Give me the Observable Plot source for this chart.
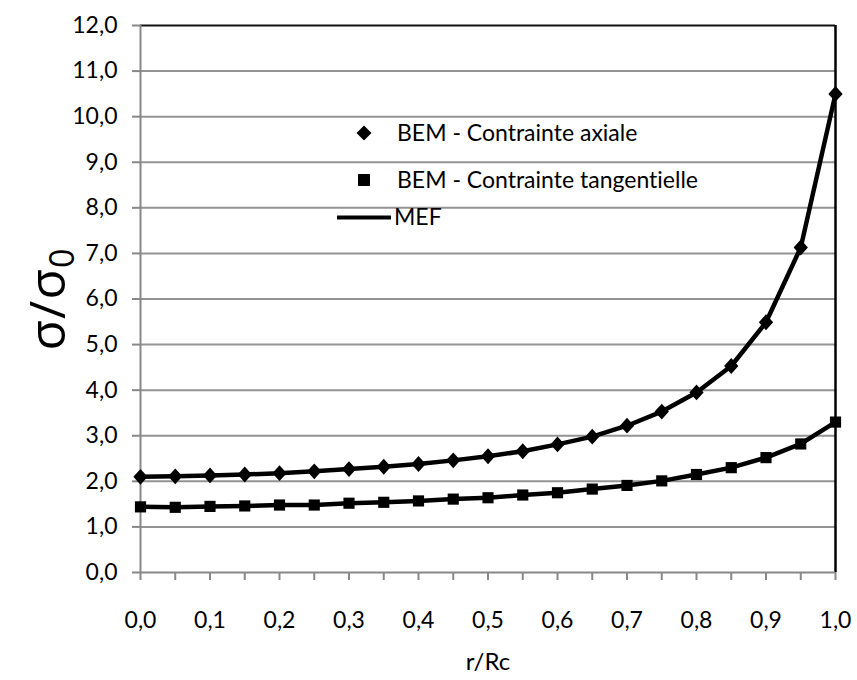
<!DOCTYPE html>
<html><head><meta charset="utf-8">
<script src="https://cdn.jsdelivr.net/npm/d3@7"></script>
<script src="https://cdn.jsdelivr.net/npm/@observablehq/plot@0.6"></script>
<style>
body{margin:0;background:#fff;}
#wrap{position:relative;width:857px;height:680px;font-family:Lato,"Open Sans",sans-serif;font-variant-ligatures:none;}
#wrap svg text{font-variant-ligatures:none;}
.lg{position:absolute;white-space:nowrap;transform:translateY(-50%);line-height:1;font-size:23px;color:#000;font-variant-ligatures:none;}
.sym{position:absolute;transform:translate(-50%,-50%);line-height:0;}
</style>
</head><body>
<div id="wrap"></div>
<script>
const rRatio = [0,0.05,0.1,0.15,0.2,0.25,0.3,0.35,0.4,0.45,0.5,0.55,0.6,0.65,0.7,0.75,0.8,0.85,0.9,0.95,1.0];
const axial = [2.10,2.11,2.13,2.15,2.18,2.22,2.27,2.32,2.38,2.46,2.55,2.66,2.81,2.98,3.22,3.53,3.95,4.53,5.49,7.13,10.50];
const tangential = [1.44,1.43,1.45,1.46,1.48,1.48,1.52,1.54,1.57,1.61,1.64,1.70,1.75,1.83,1.91,2.01,2.15,2.30,2.52,2.82,3.30];
const xTicks = [0,0.05,0.1,0.15,0.2,0.25,0.3,0.35,0.4,0.45,0.5,0.55,0.6,0.65,0.7,0.75,0.8,0.85,0.9,0.95,1.0];
const yTicks = [0,1,2,3,4,5,6,7,8,9,10,11,12];
const seriesNames = ["BEM - Contrainte axiale","BEM - Contrainte tangentielle","MEF"];
const xTitle = "r/Rc";
const yTitleMain = "σ/σ";
const yTitleSub = "0";

const axData = rRatio.map((x,i)=>({x, y: axial[i]}));
const tgData = rRatio.map((x,i)=>({x, y: tangential[i]}));
const fmt = v => v.toFixed(1).replace(".", ",");
const fmtX = v => (Math.round(v*20) % 2 === 0) ? fmt(v) : "";

const diamond = {draw(ctx, size){ const d = Math.sqrt(size/2); ctx.moveTo(0,-d*1.05); ctx.lineTo(d*0.95,0); ctx.lineTo(0,d*1.05); ctx.lineTo(-d*0.95,0); ctx.closePath(); }};

const chart = Plot.plot({
  width: 857, height: 680,
  marginLeft: 140, marginRight: 22, marginTop: 25, marginBottom: 108,
  style: {fontFamily: 'Lato,"Open Sans",sans-serif', fontSize: "23px", color: "#000", background: "#fff"},
  x: {domain: [0,1]},
  y: {domain: [0,12]},
  marks: [
    Plot.gridY(yTicks.filter(v=>v>0 && v<12), {stroke: "#939393", strokeOpacity: 1, strokeWidth: 2}),
    Plot.ruleY([12], {stroke: "#111", strokeWidth: 2}),
    Plot.ruleX([1], {stroke: "#000", strokeWidth: 2.5}),
    Plot.ruleY([0], {stroke: "#888", strokeWidth: 2}),
    Plot.ruleX([0], {stroke: "#888", strokeWidth: 2}),
    Plot.axisX(xTicks, {tickFormat: fmtX, tickSize: 8, tickPadding: 31, stroke: "#888", strokeWidth: 2, label: null, fontSize: 23}),
    Plot.axisY(yTicks, {tickFormat: fmt, tickSize: 8, tickPadding: 15, stroke: "#888", strokeWidth: 2, label: null, fontSize: 23}),
    Plot.line(axData, {x: "x", y: "y", stroke: "#000", strokeWidth: 4.5}),
    Plot.line(tgData, {x: "x", y: "y", stroke: "#000", strokeWidth: 4.5}),
    Plot.dot(axData, {x: "x", y: "y", symbol: diamond, r: 6, fill: "#000", stroke: "none"}),
    Plot.dot(tgData, {x: "x", y: "y", symbol: "square", r: 6.3, fill: "#000", stroke: "none"}),
    Plot.text([xTitle], {frameAnchor: "bottom", dy: 97, text: d=>d, fontSize: 24}),
    Plot.text([yTitleMain + yTitleSub], {frameAnchor: "left", textAnchor: "middle", dx: -92, rotate: -90, text: d=>d, fontSize: 50, fontFamily: '"Open Sans",sans-serif', className: "ytitle"})
  ]
});
const wrap = document.getElementById("wrap");
wrap.appendChild(chart);

// subscript for the y title
const t = d3.select(chart).select(".ytitle text");
if (!t.empty()) {
  t.text(null).attr("letter-spacing", "1px");
  t.append("tspan").text(yTitleMain);
  t.append("tspan").text(yTitleSub).attr("font-size", "34").attr("dy", "9");
}

const leg = document.createElement("div");
leg.innerHTML = `
<div class="sym" style="left:364px;top:133px;"><svg width="16" height="16"><path d="M8,0.5L15.5,8L8,15.5L0.5,8Z" fill="#000"/></svg></div>
<div class="lg" style="left:397px;top:132px;">${seriesNames[0]}</div>
<div class="sym" style="left:364px;top:180px;"><svg width="12" height="12"><rect width="12" height="12" fill="#000"/></svg></div>
<div class="lg" style="left:397px;top:179px;">${seriesNames[1]}</div>
<div class="sym" style="left:364px;top:217px;"><svg width="54" height="5"><line x1="0" y1="2.5" x2="54" y2="2.5" stroke="#000" stroke-width="4"/></svg></div>
<div class="lg" style="left:394px;top:216px;">${seriesNames[2]}</div>`;
wrap.appendChild(leg);
</script>
</body></html>
